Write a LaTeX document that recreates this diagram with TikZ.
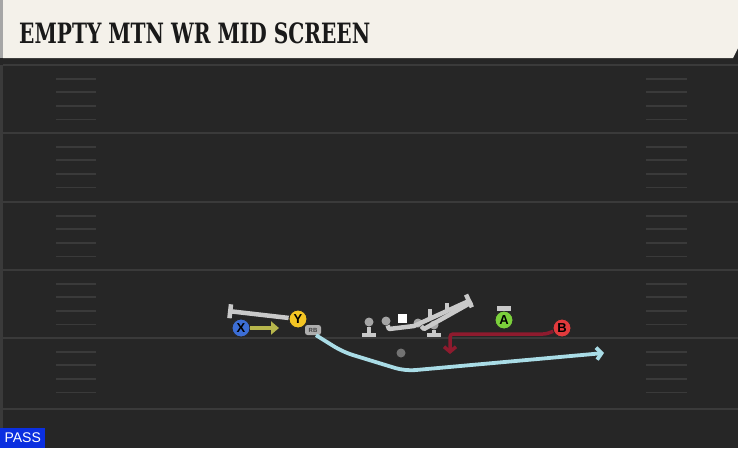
\documentclass[tikz,border=0pt]{standalone}
\usepackage{fontspec}
\usepackage{tikz}
\usetikzlibrary{arrows.meta}
\setmainfont{Liberation Sans}
\newfontfamily\titlefont{DejaVu Serif Condensed}

\definecolor{field}{HTML}{262626}
\definecolor{yardgrey}{HTML}{3A3A3A}
\definecolor{titlebg}{HTML}{F4F1EA}
\definecolor{routegrey}{HTML}{C9C9C9}
\definecolor{mangrey}{HTML}{A5A5A5}
\definecolor{xblue}{HTML}{3C6ED6}
\definecolor{yyellow}{HTML}{F4C523}
\definecolor{agreen}{HTML}{7BD03B}
\definecolor{bred}{HTML}{E23A3C}
\definecolor{olive}{HTML}{B7B64C}
\definecolor{skyblue}{HTML}{A9DCE6}
\definecolor{darkred}{HTML}{8E1B2E}
\definecolor{passblue}{HTML}{0B2FE0}

\tikzset{
	player/.style={circle, draw=black!85, line width=0.9pt, minimum size=18pt, inner sep=0pt, font=\bfseries\fontsize{13}{13}\selectfont},
	lineman/.style={circle, fill=mangrey, minimum size=9pt, inner sep=0pt},
	block/.style={draw=routegrey, line width=4.5pt, -{Bar[width=14pt]}},
	grey route/.style={draw=routegrey, line width=4.5pt, line join=round},
	yard/.style={draw=yardgrey, line width=2pt},
	hash/.style={draw=yardgrey, line width=1.8pt},
}

\begin{document}
\begin{tikzpicture}[x=1pt, y=-1pt]
	\useasboundingbox (0,0) rectangle (738,448);
	\fill[field] (0,0) rectangle (738,448);
	\fill[yardgrey] (0,0) rectangle (3,448);
	\fill[black!85] (0,58) rectangle (738,65);
	\fill[black!35] (0,0) rectangle (3,58);
	\fill[titlebg] (3,0) -- (738,0) -- (738,48) -- (733,58) -- (3,58) -- cycle;
	\node[anchor=west, inner sep=0pt, font=\titlefont\bfseries\fontsize{28}{28}\selectfont, text=black!90] (title) at (19,33) {\scalebox{0.8}[1]{EMPTY MTN WR MID SCREEN}};

	\foreach \y in {65,133,202,270,338,409}
		\draw[yard] (3,\y) -- (738,\y);
	\foreach \y in {65,133,202,270,338}
		\foreach \k in {1,...,4}{
			\draw[hash] (56,\y+13.6*\k) -- (96,\y+13.6*\k);
			\draw[hash] (646,\y+13.6*\k) -- (687,\y+13.6*\k);
		}

	\node[fill=passblue, text=white, anchor=south west, minimum width=45pt, minimum height=20pt, inner sep=0pt, font=\fontsize{14}{14}\selectfont] (pass) at (0,448) {PASS};

	% offensive line
	\node[lineman] (g1) at (369,322) {};
	\node[lineman] (g2) at (386,321) {};
	\node[lineman] (g3) at (418,323) {};
	\node[lineman] (g4) at (434,325) {};
	\node[fill=white, minimum size=9pt, inner sep=0pt] (ctr) at (402,318) {};
	\node[circle, fill=black!55, minimum size=9pt, inner sep=0pt] (qb) at (401,353) {};
	\coordinate (g1s) at (369,337);
	\coordinate (g4s) at (434,337);
	\coordinate (g2a) at (389,329);
	\coordinate (g2b) at (414,326);
	\coordinate (g2e) at (471,300);
	\coordinate (g3a) at (424,329);
	\coordinate (g3e) at (472,302);
	\draw[block] (g1) -- (g1s);
	\draw[block] (g4) -- (g4s);
	\draw[grey route] (g3) -- (g3a) -- (g3e);
	\draw[grey route, -{Bar[width=14pt]}] (g2) -- (g2a) -- (g2b) -- (g2e);
	\draw[grey route] (430,318) -- (430,309);
	\draw[grey route] (447,311) -- (447,303);

	% skill players
	\node[player, fill=xblue] (X) at (241,328) {X};
	\node[player, fill=yyellow] (Y) at (298,319) {Y};
	\node[player, fill=agreen] (A) at (504,320) {A};
	\node[player, fill=bred] (B) at (562,328) {B};
	\node[fill=mangrey!90!white, rounded corners=2.5pt, minimum width=16pt, minimum height=10pt, inner sep=0pt, font=\bfseries\fontsize{6}{6}\selectfont, text=black!75] (RB) at (313,330) {RB};

	\coordinate (xend) at (279,328);
	\coordinate (yend) at (228,311);
	\coordinate (aend) at (504,306);
	\coordinate (b1) at (546,334);
	\coordinate (b2) at (450,334);
	\coordinate (b3) at (450,354);
	\coordinate (rb1) at (343,352);
	\coordinate (rb2) at (405,371);
	\coordinate (rbend) at (604,353);

	\draw[olive, line width=4.5pt, -{Triangle[length=8pt, width=13pt]}] (X) -- (xend);
	\draw[block] (Y) -- (yend);
	\draw[block] (A) -- (aend);
	\draw[darkred, line width=3.5pt, rounded corners=3pt, -{Straight Barb[length=5pt, width=12pt]}] (B) -- (b1) -- (b2) -- (b3);
	\draw[skyblue, line width=3.8pt, rounded corners=10pt, -{Straight Barb[length=5pt, width=12pt]}] (RB.300) -- (rb1) -- (rb2) -- (rbend);
\end{tikzpicture}
\end{document}
